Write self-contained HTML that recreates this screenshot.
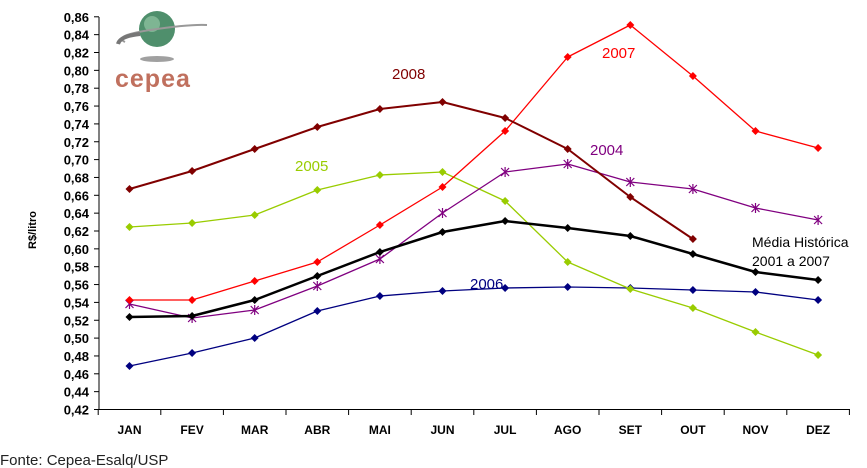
<!DOCTYPE html>
<html><head><meta charset="utf-8"><style>
body{margin:0;background:#fff;width:867px;height:468px;overflow:hidden}
svg{display:block}
text{font-family:"Liberation Sans",sans-serif}
</style></head><body>
<svg id="s" width="867" height="468" viewBox="0 0 867 468">
<g stroke="#000" stroke-width="1" fill="none">
<line x1="99" y1="17" x2="99" y2="410"/>
<line x1="99" y1="409.5" x2="850" y2="409.5"/>
</g>
<g id="yt"></g><g id="xt"></g>
<text x="36" y="230" font-size="11" font-weight="bold" transform="rotate(-90 36 230)" text-anchor="middle">R$/litro</text>
<text x="0" y="465" font-size="15" fill="#222">Fonte: Cepea-Esalq/USP</text>
<!-- logo -->
<ellipse cx="157" cy="59" rx="17" ry="3" fill="#888" opacity="0.8"/>
<circle cx="157" cy="29" r="18" fill="#4f8f6c"/>
<circle cx="152" cy="24" r="8" fill="#9fcfae" opacity="0.6"/>
<path d="M125 42 Q112 36 150 30 Q190 24 207 25" stroke="#999" stroke-width="2" fill="none"/>
<path d="M118 44 Q120 36 140 34" stroke="#777" stroke-width="4" fill="none"/>
<text x="115" y="87" font-size="25" font-weight="bold" fill="#c0705e" letter-spacing="1">cepea</text>
<g id="series"></g>
<text x="392" y="79" font-size="15" fill="#800000">2008</text>
<text x="602" y="58" font-size="15" fill="#ff0000">2007</text>
<text x="295" y="171" font-size="15" fill="#99cc00">2005</text>
<text x="590" y="155" font-size="15" fill="#800080">2004</text>
<text x="470" y="289" font-size="15" fill="#000080">2006</text>
<text x="752" y="247" font-size="14" fill="#000">Média Histórica</text>
<text x="752" y="266" font-size="14" fill="#000">2001 a 2007</text>
</svg>
<script>
var s=document.getElementById('s'),NS='http://www.w3.org/2000/svg';
function el(t,a,p){var e=document.createElementNS(NS,t);for(var k in a)e.setAttribute(k,a[k]);(p||s).appendChild(e);return e;}
var yt=document.getElementById('yt'),xt=document.getElementById('xt');
for(var i=0;i<=22;i++){var y=409.5-i*17.85;el('line',{x1:94,x2:99,y1:y,y2:y,stroke:'#000'},yt);
var t=el('text',{x:89,y:y+5,'font-size':13,'font-weight':'bold','text-anchor':'end'},yt);t.textContent=(0.42+i*0.02).toFixed(2).replace('.',',');}
var m=['JAN','FEV','MAR','ABR','MAI','JUN','JUL','AGO','SET','OUT','NOV','DEZ'];
var X=[];for(i=0;i<12;i++)X.push(129.5+62.6*i);
for(i=0;i<=12;i++){var x=98.2+62.6*i;el('line',{x1:x,x2:x,y1:409,y2:415,stroke:'#000'},xt);}
for(i=0;i<12;i++){var t=el('text',{x:X[i],y:434,'font-size':12,'font-weight':'bold','text-anchor':'middle'},xt);t.textContent=m[i];}
var g=document.getElementById('series');
function ser(ys,c,w,mk){var pts=ys.map(function(y,i){return X[i]+','+y;}).join(' ');
el('polyline',{points:pts,fill:'none',stroke:c,'stroke-width':w,'stroke-linejoin':'round'},g);
ys.forEach(function(y,i){var x=X[i];
if(mk=='x'){el('path',{d:'M'+(x-4)+' '+(y-4)+'L'+(x+4)+' '+(y+4)+'M'+(x-4)+' '+(y+4)+'L'+(x+4)+' '+(y-4)+'M'+x+' '+(y-5)+'L'+x+' '+(y+5),stroke:c,'stroke-width':1.2},g);}
else el('path',{d:'M'+x+' '+(y-4)+'L'+(x+4)+' '+y+'L'+x+' '+(y+4)+'L'+(x-4)+' '+y+'Z',fill:c},g);});}
ser([366,353,338,311,296,291,288,287,288,290,292,300],'#000080',1.3);
ser([227,223,215,190,175,172,201,262,289,308,332,355],'#99cc00',1.3);
ser([304,318,310,286,259,213,172,164,182,189,208,220],'#800080',1.3,'x');
ser([317,316,300,276,252,232,221,228,236,254,272,280],'#000',2.5);
ser([300,300,281,262,225,187,131,57,25,76,131,148],'#ff0000',1.3);
ser([189,171,149,127,109,102,118,149,197,239],'#800000',2);
</script>
</body></html>
